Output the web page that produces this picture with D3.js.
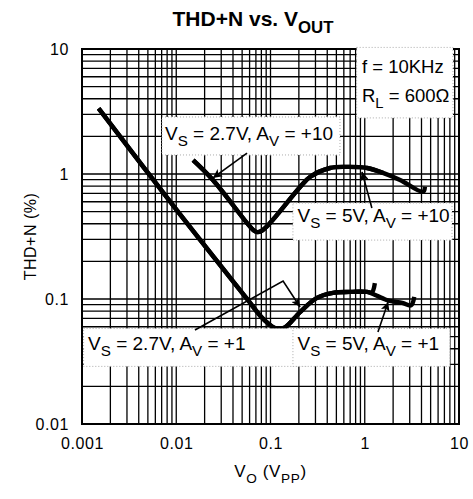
<!DOCTYPE html>
<html><head><meta charset="utf-8">
<script src="https://cdn.jsdelivr.net/npm/d3@7"></script>
<style>body{margin:0;background:#fff} text{font-family:"Liberation Sans",Arial,Helvetica,sans-serif;fill:#000}</style>
</head><body><svg id="c" width="473" height="499"></svg>
<script>
// ---- data ----
const xTicks = [0.001, 0.01, 0.1, 1, 10];
const xTickLabels = ["0.001", "0.01", "0.1", "1", "10"];
const yTicks = [0.01, 0.1, 1, 10];
const yTickLabels = ["0.01", "0.1", "1", "10"];

const vs27av10X = [0.0151, 0.0245, 0.0564, 0.066, 0.072, 0.08, 0.0988, 0.206, 0.262, 0.428, 0.649, 1.06, 1.56];
const vs27av10Y = [1.29, 0.895, 0.405, 0.355, 0.343, 0.35, 0.405, 0.787, 0.946, 1.117, 1.14, 1.117, 1.02];
const vs5av10X = [0.0151, 0.0245, 0.0564, 0.066, 0.072, 0.08, 0.0988, 0.206, 0.262, 0.428, 0.649, 1.06, 1.56, 2.37, 4.15, 4.35];
const vs5av10Y = [1.29, 0.895, 0.405, 0.355, 0.343, 0.35, 0.405, 0.787, 0.946, 1.117, 1.14, 1.117, 1.02, 0.895, 0.72, 0.79];
const vs27av1X = [0.0015, 0.0097, 0.0558, 0.08, 0.094, 0.112, 0.14, 0.206, 0.311, 0.46, 0.70, 1.06, 1.19, 1.28];
const vs27av1Y = [3.35, 0.535, 0.101, 0.0718, 0.064, 0.0586, 0.059, 0.0787, 0.102, 0.112, 0.114, 0.114, 0.113, 0.134];
const vs5av1X = [0.0015, 0.0097, 0.0558, 0.08, 0.094, 0.112, 0.14, 0.206, 0.311, 0.46, 0.70, 1.06, 1.72, 2.5, 3.1, 3.35];
const vs5av1Y = [3.35, 0.535, 0.101, 0.0718, 0.064, 0.0586, 0.059, 0.0787, 0.102, 0.112, 0.114, 0.114, 0.098, 0.093, 0.089, 0.104];

// annotation boxes [x0, x1, yTop, yBottom] in data units
const boxCond = [0.82, 8.63, 10.3, 2.81];
const box27av10 = [0.00706, 0.546, 2.86, 1.42];
const box5av10 = [0.173, 8.43, 0.586, 0.296];
const box27av1 = [0.00104, 0.25, 0.0581, 0.0289];
const box5av1 = [0.173, 8.0, 0.0581, 0.0289];
// arrows: polyline points in data units, last point = tip
const arrow27av10 = [[0.0564, 1.47], [0.0245, 0.93]];
const arrow5av10 = [[1.19, 0.535], [0.935, 1.04]];
const arrow27av1 = [[0.0158, 0.0565], [0.136, 0.139], [0.206, 0.0863]];
const arrow5av1 = [[1.38, 0.0545], [1.77, 0.0946]];

// ---- layout ----
const W = 473, H = 499;
const m = {l: 82, r: 14, t: 49, b: 75};
const svg = d3.select("#c");
const x = d3.scaleLog().domain([0.001, 10]).range([m.l, W - m.r]);
const y = d3.scaleLog().domain([0.01, 10]).range([H - m.b, m.t]);

// grid
const gx = [], gy = [];
for (let e = -3; e < 1; e++) for (let k = 1; k <= 9; k++) gx.push(k * Math.pow(10, e));
for (let e = -2; e < 1; e++) for (let k = 1; k <= 9; k++) gy.push(k * Math.pow(10, e));
const grid = svg.append("g").attr("stroke", "#000").attr("stroke-width", 1.3);
grid.selectAll(".vx").data(gx).join("line")
  .attr("x1", d => x(d)).attr("x2", d => x(d)).attr("y1", y(10)).attr("y2", y(0.01));
grid.selectAll(".hy").data(gy).join("line")
  .attr("y1", d => y(d)).attr("y2", d => y(d)).attr("x1", x(0.001)).attr("x2", x(10));

svg.append("rect").attr("x", x(0.001)).attr("y", y(10))
  .attr("width", x(10) - x(0.001)).attr("height", y(0.01) - y(10))
  .attr("fill", "none").attr("stroke", "#000").attr("stroke-width", 2);

// axes tick labels
const xAxis = d3.axisBottom(x).tickValues(xTicks).tickFormat((d, i) => xTickLabels[i]).tickSize(0).tickPadding(14);
const gxa = svg.append("g").attr("transform", `translate(0,${y(0.01)})`).call(xAxis);
gxa.select(".domain").remove();
gxa.selectAll("text").attr("font-size", 16).attr("font-family", "Liberation Sans, Arial, sans-serif").style("letter-spacing", "0.6px");
const yAxis = d3.axisLeft(y).tickValues(yTicks).tickFormat((d, i) => yTickLabels[i]).tickSize(0).tickPadding(13);
const gya = svg.append("g").attr("transform", `translate(${x(0.001)},0)`).call(yAxis);
gya.select(".domain").remove();
gya.selectAll("text").attr("font-size", 16).attr("font-family", "Liberation Sans, Arial, sans-serif").style("letter-spacing", "0.6px");

// curves
const line = d3.line().x(d => x(d[0])).y(d => y(d[1])).curve(d3.curveCatmullRom.alpha(0.5));
const zip = (a, b) => a.map((v, i) => [v, b[i]]);
[[vs27av10X, vs27av10Y], [vs5av10X, vs5av10Y], [vs27av1X, vs27av1Y], [vs5av1X, vs5av1Y]].forEach(([a, b]) => {
  svg.append("path").attr("d", line(zip(a, b))).attr("fill", "none")
    .attr("stroke", "#000").attr("stroke-width", 4.4).attr("stroke-linecap", "butt").attr("stroke-linejoin", "round");
});

// boxes
[boxCond, box27av10, box5av10, box27av1, box5av1].forEach(b => {
  svg.append("rect").attr("x", x(b[0])).attr("y", y(b[2]))
    .attr("width", x(b[1]) - x(b[0])).attr("height", y(b[3]) - y(b[2]))
    .attr("fill", "#fff").attr("stroke", "#aaa").attr("stroke-width", 1).attr("stroke-dasharray", "1,2");
});

// rich text helper
function rich(g, px, py, segs, size, bold) {
  const t = g.append("text").attr("x", px).attr("y", py).attr("font-size", size);
  if (bold) t.attr("font-weight", "bold");
  let down = false;
  segs.forEach(s => {
    const sub = typeof s !== "string";
    const txt = sub ? s.s : s;
    const ts = t.append("tspan").text(txt);
    if (sub) { ts.attr("font-size", size * 0.8).attr("dy", size * 0.33); down = true; }
    else if (down) { ts.attr("dy", -size * 0.33); down = false; }
  });
  return t;
}
const lbl = svg.append("g");
rich(lbl, x(0.935), y(6.43), ["f = 10KHz"], 18.5);
rich(lbl, x(0.935), y(3.77), ["R", {s: "L"}, " = 600Ω"], 18.5);
rich(lbl, x(0.0076), y(1.87), ["V", {s: "S"}, " = 2.7V, A", {s: "V"}, " = +10"], 19);
rich(lbl, x(0.1934), y(0.413), ["V", {s: "S"}, " = 5V, A", {s: "V"}, " = +10"], 19);
rich(lbl, x(0.00116), y(0.0391), ["V", {s: "S"}, " = 2.7V, A", {s: "V"}, " = +1"], 19);
rich(lbl, x(0.1934), y(0.0391), ["V", {s: "S"}, " = 5V, A", {s: "V"}, " = +1"], 19);

// arrows
svg.append("defs").append("marker").attr("id", "ah").attr("viewBox", "0 0 10 10")
  .attr("refX", 10).attr("refY", 5).attr("markerWidth", 13).attr("markerHeight", 9)
  .attr("markerUnits", "userSpaceOnUse").attr("orient", "auto")
  .append("path").attr("d", "M0,0 L10,5 L0,10 L2.5,5 Z").attr("fill", "#000");
const aline = d3.line().x(d => x(d[0])).y(d => y(d[1]));
[arrow27av10, arrow5av10, arrow27av1, arrow5av1].forEach(a => {
  svg.append("path").attr("d", aline(a)).attr("fill", "none").attr("stroke", "#000")
    .attr("stroke-width", 1.6).attr("marker-end", "url(#ah)");
});

// title & axis titles
const tt = rich(svg, 0, 26, ["THD+N vs. V", {s: "OUT"}], 21, true);
tt.attr("x", 253).attr("text-anchor", "middle");
const xl = rich(svg, 0, 477, ["V", {s: "O"}, " (V", {s: "PP"}, ")"], 17);
xl.attr("x", (x(0.001) + x(10)) / 2).attr("text-anchor", "middle").style("letter-spacing", "0.6px");
svg.append("text").attr("transform", `translate(36,${(y(10) + y(0.01)) / 2}) rotate(-90)`)
  .attr("text-anchor", "middle").attr("font-size", 16).style("letter-spacing", "0.5px").text("THD+N (%)");
</script></body></html>
